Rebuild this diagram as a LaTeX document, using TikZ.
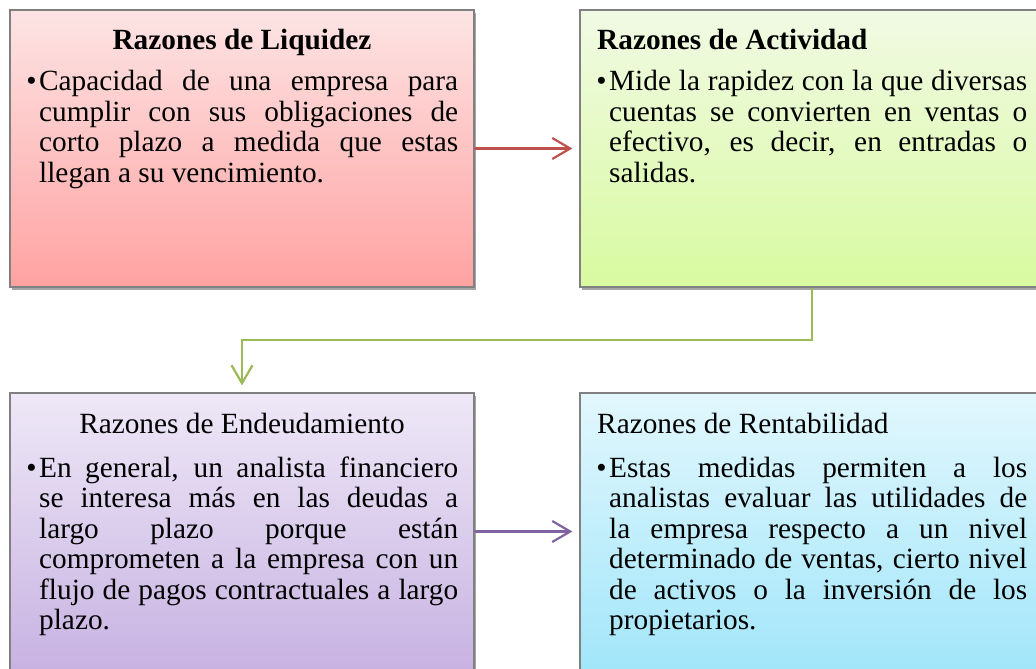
\documentclass[tikz,border=0pt]{standalone}
\usepackage{fontspec}
\setmainfont{Liberation Serif}
\usetikzlibrary{arrows.meta,shadows}
\definecolor{redtop}{RGB}{253,228,228}
\definecolor{redbot}{RGB}{255,162,162}
\definecolor{grntop}{RGB}{241,250,228}
\definecolor{grnbot}{RGB}{216,250,160}
\definecolor{purtop}{RGB}{238,232,247}
\definecolor{purbot}{RGB}{200,178,226}
\definecolor{blutop}{RGB}{226,247,253}
\definecolor{blubot}{RGB}{162,230,250}
\definecolor{boxgray}{RGB}{128,128,128}
\definecolor{redarrow}{RGB}{192,80,77}
\definecolor{grnarrow}{RGB}{155,187,89}
\definecolor{purarrow}{RGB}{128,100,162}
\newcommand\jline[1]{\makebox[\linewidth][s]{#1}\\}
\newcommand\bul{\leavevmode\llap{\textbullet\hspace{2.5pt}}}
\begin{document}
\begin{tikzpicture}[x=1pt,y=-1pt,
  box/.style={draw=boxgray,line width=1.2pt,minimum width=464pt,minimum height=277pt,
    inner sep=0pt,drop shadow={shadow xshift=2pt,shadow yshift=-3pt,fill=black,opacity=0.35}},
  ttl/.style={font=\fontsize{29.3}{30.5}\selectfont,inner sep=0pt},
  body/.style={font=\fontsize{29.3}{30.5}\selectfont,inner sep=0pt,anchor=base west},
  conn/.style={line width=2.2pt,-{Straight Barb[length=18pt,width=21pt]},shorten >=7pt}]
\useasboundingbox (0,0) rectangle (1036,669);
\clip (0,0) rectangle (1036,669);
\node[box,top color=redtop,bottom color=redbot] (box1) at (242,148.5) {};
\node[box,top color=grntop,bottom color=grnbot] (box2) at (812,148.5) {};
\node[box,top color=purtop,bottom color=purbot] (box3) at (242,531.5) {};
\node[box,top color=blutop,bottom color=blubot] (box4) at (812,531.5) {};

\node[ttl,font=\fontsize{29.3}{30.5}\selectfont\bfseries,anchor=base] (t1) at (242,50) {Razones de Liquidez};
\node[body] (b1) at (39,91) {\parbox[t]{419pt}{\bul\jline{Capacidad de una empresa para}\jline{cumplir con sus obligaciones de}\jline{corto plazo a medida que estas}llegan a su vencimiento.}};

\node[ttl,font=\fontsize{29.3}{30.5}\selectfont\bfseries,anchor=base west] (t2) at (597,50) {Razones de Actividad};
\node[body] (b2) at (609,91) {\parbox[t]{418pt}{\bul\jline{Mide la rapidez con la que diversas}\jline{cuentas se convierten en ventas o}\jline{efectivo, es decir, en entradas o}salidas.}};

\node[ttl,anchor=base] (t3) at (242,433) {Razones de Endeudamiento};
\node[body] (b3) at (39,477) {\parbox[t]{419pt}{\bul\jline{En general, un analista financiero}\jline{se interesa más en las deudas a}\jline{largo plazo porque están}\jline{comprometen a la empresa con un}\jline{flujo de pagos contractuales a largo}plazo.}};

\node[ttl,anchor=base west] (t4) at (597,433) {Razones de Rentabilidad};
\node[body] (b4) at (609,477) {\parbox[t]{418pt}{\bul\jline{Estas medidas permiten a los}\jline{analistas evaluar las utilidades de}\jline{la empresa respecto a un nivel}\jline{determinado de ventas, cierto nivel}\jline{de activos o la inversión de los}propietarios.}};

\draw[conn,redarrow] (box1.east) -- (box2.west);
\coordinate (bend) at (242,340);
\draw[conn,grnarrow] (box2.south) |- (bend) -- (box3.north);
\draw[conn,purarrow] (box3.east) -- (box4.west);
\end{tikzpicture}
\end{document}
